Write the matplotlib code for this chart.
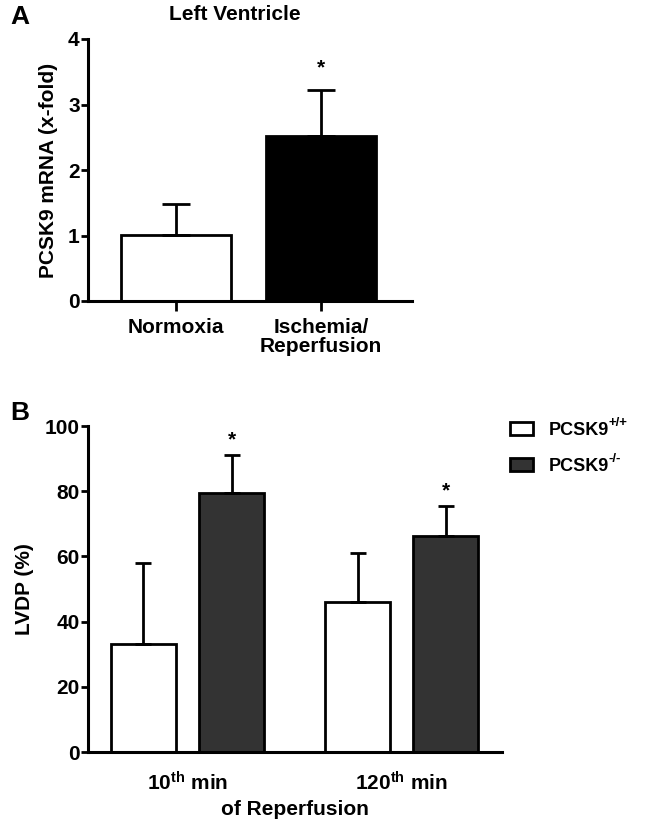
import matplotlib
matplotlib.use("Agg")
import matplotlib.pyplot as plt
from matplotlib.patches import Patch
import numpy as np

plt.rcParams['font.family'] = ['Liberation Sans', 'DejaVu Sans']
plt.rcParams['font.weight'] = 'bold'
plt.rcParams['axes.labelweight'] = 'bold'
plt.rcParams['mathtext.fontset'] = 'custom'
plt.rcParams['mathtext.rm'] = 'Liberation Sans:bold'
plt.rcParams['mathtext.it'] = 'Liberation Sans:bold'
plt.rcParams['mathtext.bf'] = 'Liberation Sans:bold'
plt.rcParams['mathtext.default'] = 'regular'

# panel A data
groups_a = ['Normoxia', 'Ischemia/\nReperfusion']
mrna_mean = [1.01, 2.52]
mrna_sem = [0.47, 0.70]
colors_a = ['white', 'black']

# panel B data
groups_b = ['10$^{th}$ min', '120$^{th}$ min']
lvdp_wt = [33.1, 46.0]
lvdp_wt_sem = [25.0, 15.0]
lvdp_ko = [79.4, 66.3]
lvdp_ko_sem = [11.7, 9.2]
legend_names = ['PCSK9', 'PCSK9']
legend_sups = ['+/+', '-/-']
dark = '#333333'

W, H = 646, 827
fig = plt.figure(figsize=(W/100, H/100), dpi=100)

def style_axes(ax):
    for s in ['top', 'right']:
        ax.spines[s].set_visible(False)
    for s in ['left', 'bottom']:
        ax.spines[s].set_linewidth(2.2)
    ax.tick_params(width=2, length=5, labelsize=15, pad=1)

# ---- A ----
axA = fig.add_axes([88/W, 1-301/H, (412-88)/W, (301-39)/H])
xa = np.arange(len(groups_a))
axA.bar(xa, mrna_mean, width=0.76, color=colors_a, edgecolor='black', linewidth=2)
axA.errorbar(xa, mrna_mean, yerr=[np.zeros(2), mrna_sem], fmt='none',
             ecolor='black', elinewidth=2, capsize=10, capthick=2)
axA.annotate('*', (1, mrna_mean[1] + mrna_sem[1]), xytext=(0, 16),
             textcoords='offset points', ha='center', va='center', fontsize=15)
axA.set_xlim(-0.607, 1.63)
axA.set_ylim(0, 4)
axA.set_yticks([0, 1, 2, 3, 4])
axA.set_xticks(xa)
axA.set_xticklabels(groups_a, fontsize=15, linespacing=1.05)
style_axes(axA)
axA.tick_params(axis='x', length=7, pad=5)
axA.set_ylabel('PCSK9 mRNA (x-fold)', fontsize=15, labelpad=7)
fig.text(235/W, 1-14/H, 'Left Ventricle', fontsize=15, fontweight='bold',
         ha='center', va='center')
fig.text(20/W, 1-17/H, 'A', fontsize=19, fontweight='bold', ha='center', va='center')

# ---- B ----
axB = fig.add_axes([88/W, 1-752/H, (502-88)/W, (752-426)/H])
xb = np.array([0, 2.43])
off = 0.5
w = 0.74
axB.bar(xb - off, lvdp_wt, width=w, color='white', edgecolor='black', linewidth=2)
axB.bar(xb + off, lvdp_ko, width=w, color=dark, edgecolor='black', linewidth=2)
axB.errorbar(xb - off, lvdp_wt, yerr=[np.zeros(2), lvdp_wt_sem], fmt='none',
             ecolor='black', elinewidth=2, capsize=6, capthick=2)
axB.errorbar(xb + off, lvdp_ko, yerr=[np.zeros(2), lvdp_ko_sem], fmt='none',
             ecolor='black', elinewidth=2, capsize=6, capthick=2)
for xi, m, e in zip(xb + off, lvdp_ko, lvdp_ko_sem):
    axB.annotate('*', (xi, m + e), xytext=(0, 11), textcoords='offset points',
                 ha='center', va='center', fontsize=15)
axB.set_xlim(-1.13, 3.57)
axB.set_ylim(0, 100)
axB.set_yticks([0, 20, 40, 60, 80, 100])
axB.set_xticks(xb)
axB.set_xticklabels(groups_b, fontsize=15)
style_axes(axB)
axB.tick_params(axis='x', length=0, pad=14)
axB.set_ylabel('LVDP (%)', fontsize=15, labelpad=8)
axB.set_xlabel('of Reperfusion', fontsize=15, labelpad=4)
fig.text(20/W, 1-413/H, 'B', fontsize=19, fontweight='bold', ha='center', va='center')

handles = [Patch(facecolor='white', edgecolor='black', linewidth=2),
           Patch(facecolor=dark, edgecolor='black', linewidth=2)]
leg = fig.legend(handles, legend_names, loc='upper left',
                 bbox_to_anchor=(510/W, 1-422/H), frameon=False, borderpad=0,
                 borderaxespad=0, fontsize=13, handlelength=1.25,
                 handleheight=0.75, labelspacing=1.05, handletextpad=0.9)

# superscripts after the legend text
fig.canvas.draw()
for t, sup in zip(leg.get_texts(), legend_sups):
    bb = t.get_window_extent()
    fig.text((bb.x1 - 1)/W, (bb.y1 + 5)/H, sup, fontsize=9.5, fontweight='bold',
             ha='left', va='top')

fig.savefig('out.png', dpi=100)
